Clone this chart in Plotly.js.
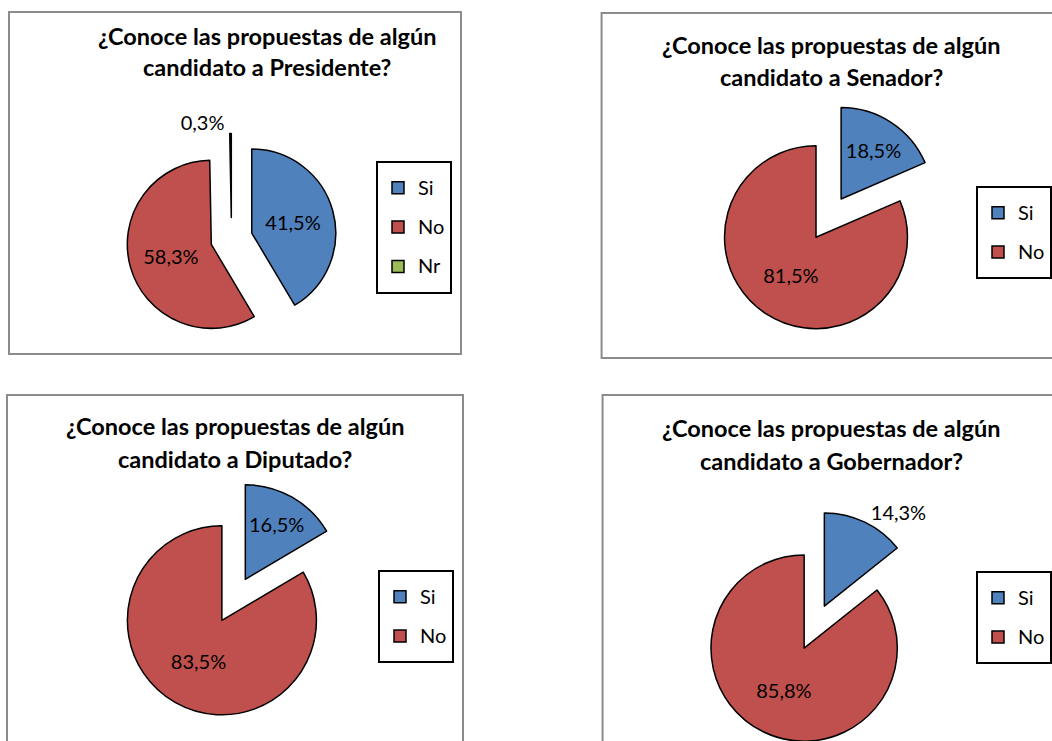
<!DOCTYPE html>
<html>
<head>
<meta charset="utf-8">
<script src="https://cdn.plot.ly/plotly-3.0.1.min.js"></script>
<style>
html, body { margin: 0; padding: 0; background: #fff; overflow: hidden; }
#wrap { position: relative; width: 1052px; height: 741px; overflow: hidden; }
.pane { position: absolute; }
</style>
</head>
<body>
<div id="wrap"></div>
<script>
// ---- data ----
const categoriesPresidente = ['Si', 'No', 'Nr'];
const valuesPresidente = [41.5, 58.3, 0.3];
const categoriesSiNo = ['Si', 'No'];
const valuesSenador = [18.5, 81.5];
const valuesDiputado = [16.5, 83.5];
const valuesGobernador = [14.3, 85.8];
const titlePresidente = ['¿Conoce las propuestas de algún', 'candidato a Presidente?'];
const titleSenador = ['¿Conoce las propuestas de algún', 'candidato a Senador?'];
const titleDiputado = ['¿Conoce las propuestas de algún', 'candidato a Diputado?'];
const titleGobernador = ['¿Conoce las propuestas de algún', 'candidato a Gobernador?'];

// ---- styling / layout ----
const FONT = 'Lato, "Open Sans", sans-serif';
const sliceColors = {Si: '#4F81BD', No: '#C0504D', Nr: '#9BBB59'};
const PULL = 0.25;

function legendLabel(c) {
  return '<span style="font-size:20px;baseline-shift:4px">' + c + '</span>';
}

const charts = [
  {cats: categoriesPresidente, vals: valuesPresidente, title: titlePresidente,
   pos: ['inside', 'inside', 'outside'], cx: 231.5, cy: 238.6, r: 84,
   tx: 267, tb: [47, 79], leg: [376, 161],
   box: [9, 12, 461, 354], pane: [0, 0, 526, 380]},
  {cats: categoriesSiNo, vals: valuesSenador, title: titleSenador,
   pos: ['inside', 'inside'], cx: 830.3, cy: 218.1, r: 92,
   tx: 833, tb: [57, 88], leg: [979, 186],
   box: [602, 13, 1070, 358], pane: [526, 0, 526, 380]},
  {cats: categoriesSiNo, vals: valuesDiputado, title: titleDiputado,
   pos: ['inside', 'inside'], cx: 233.6, cy: 599.8, r: 94.5,
   tx: 235, tb: [438, 470], leg: [378, 570],
   box: [7, 395, 463, 800], pane: [0, 380, 526, 400]},
  {cats: categoriesSiNo, vals: valuesGobernador, title: titleGobernador,
   pos: ['outside', 'inside'], cx: 815.9, cy: 627.1, r: 93.7,
   tx: 833, tb: [439, 472], leg: [979, 571],
   box: [603, 395, 1070, 800], pane: [526, 380, 526, 400]}
];

const wrap = document.getElementById('wrap');

charts.forEach((c, idx) => {
  const [L, T, PW, PH] = c.pane;
  const div = document.createElement('div');
  div.className = 'pane';
  div.style.left = L + 'px';
  div.style.top = T + 'px';
  div.style.width = PW + 'px';
  div.style.height = PH + 'px';
  wrap.appendChild(div);

  const px2x = p => (p - L) / PW;
  const px2y = p => 1 - (p - T) / PH;
  const h = c.r * (1 + PULL);

  const trace = {
    type: 'pie',
    labels: c.cats.map(legendLabel),
    values: c.vals,
    sort: false,
    direction: 'clockwise',
    rotation: 0,
    pull: PULL,
    domain: {x: [px2x(c.cx - h), px2x(c.cx + h)], y: [px2y(c.cy + h), px2y(c.cy - h)]},
    marker: {colors: c.cats.map(k => sliceColors[k]), line: {color: '#000', width: 1.5}},
    texttemplate: '%{value:.1f}%',
    textposition: c.pos,
    insidetextorientation: 'horizontal',
    insidetextfont: {family: FONT, size: 20, color: '#000'},
    outsidetextfont: {family: FONT, size: 20, color: '#000'},
    hoverinfo: 'label+value'
  };

  const annotations = c.title.map((line, i) => ({
    xref: 'paper', yref: 'paper', x: px2x(c.tx), y: px2y(c.tb[i] - 11.5),
    xanchor: 'center', yanchor: 'middle', showarrow: false,
    text: line, font: {family: FONT, size: 23.5, color: '#000', weight: 'bold'}
  }));

  const layout = {
    width: PW, height: PH,
    margin: {l: 0, r: 0, t: 0, b: 0},
    paper_bgcolor: 'rgba(0,0,0,0)',
    separators: ',.',
    showlegend: true,
    font: {family: FONT, color: '#000'},
    legend: {
      x: px2x(c.leg[0]), y: px2y(c.leg[1]), xanchor: 'left', yanchor: 'top',
      bgcolor: '#fff', bordercolor: '#000', borderwidth: 2,
      font: {family: FONT, size: 28, color: '#000'},
      itemwidth: 30
    },
    annotations: annotations,
    shapes: [{
      type: 'rect', xref: 'paper', yref: 'paper',
      x0: px2x(c.box[0]), x1: px2x(c.box[2]), y0: px2y(c.box[3]), y1: px2y(c.box[1]),
      line: {color: '#8c8c8c', width: 2}, fillcolor: 'rgba(0,0,0,0)', layer: 'below'
    }]
  };

  Plotly.newPlot(div, [trace], layout, {staticPlot: true, displayModeBar: false});
});
</script>
</body>
</html>
